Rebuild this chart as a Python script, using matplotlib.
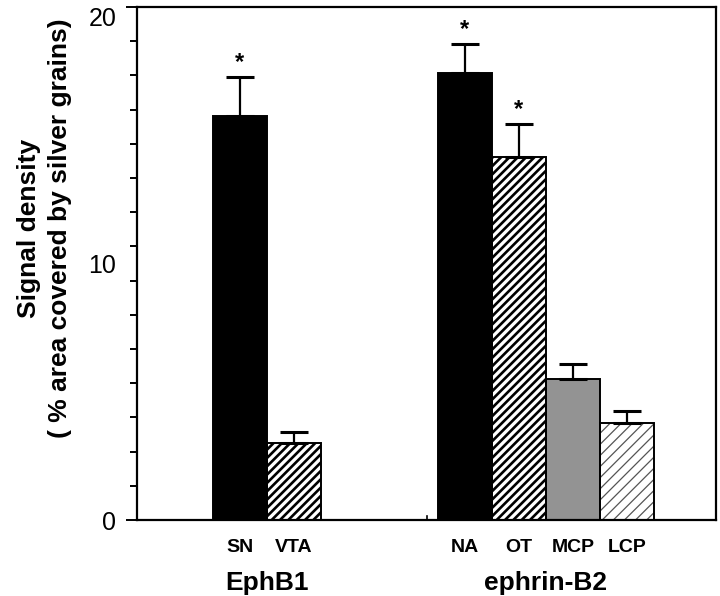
import matplotlib
matplotlib.use("Agg")
import matplotlib.pyplot as plt
import matplotlib.transforms as mtransforms
import numpy as np

plt.rcParams['font.family'] = ['Liberation Sans', 'DejaVu Sans']

# ---- data ----
categories = ["SN", "VTA", "NA", "OT", "MCP", "LCP"]
groups = ["EphB1", "ephrin-B2"]
values = [15.75, 3.0, 17.43, 14.15, 5.50, 3.78]
errors = [1.52, 0.43, 1.13, 1.29, 0.58, 0.47]
significant = [True, False, True, True, False, False]
ytick_values = [0, 10, 20]

# ---- layout ----
positions = np.array([1.9, 2.9, 6.07, 7.07, 8.07, 9.07])
group_members = [[0, 1], [2, 3, 4, 5]]
width = 1.0

fig = plt.figure(figsize=(7.2, 5.96), dpi=100)
ax = fig.add_axes([137/720, 1 - 520/596, (716-137)/720, (520-7)/596])

styles = [
    dict(fc='black', hatch=None, hc='black', hlw=1.0),
    dict(fc='white', hatch='////', hc='black', hlw=1.9),
    dict(fc='black', hatch=None, hc='black', hlw=1.0),
    dict(fc='white', hatch='////', hc='black', hlw=1.9),
    dict(fc='#939393', hatch=None, hc='black', hlw=1.0),
    dict(fc='white', hatch='///', hc='#555555', hlw=0.9),
]

for i, (x, v) in enumerate(zip(positions, values)):
    st = styles[i]
    if st['hatch']:
        with plt.rc_context({'hatch.linewidth': st['hlw']}):
            b = ax.bar(x, v, width=width, color=st['fc'], hatch=st['hatch'],
                       edgecolor=st['hc'], linewidth=0, zorder=2)
            for p in b:
                if hasattr(p, 'set_hatch_linewidth'):
                    p.set_hatch_linewidth(st['hlw'])
    else:
        ax.bar(x, v, width=width, color=st['fc'], linewidth=0, zorder=2)
    ax.bar(x, v, width=width, fill=False, edgecolor='black', linewidth=1.4, zorder=3)

ax.errorbar(positions, values, yerr=[np.zeros(len(values)), errors], fmt='none',
            ecolor='black', elinewidth=1.6, capsize=10, capthick=2.2, zorder=4)

for x, v, e, s in zip(positions, values, errors, significant):
    if s:
        ax.annotate('*', xy=(x, v + e), xytext=(0, 6), textcoords='offset points',
                    ha='center', va='baseline', fontsize=17, fontweight='bold')

ax.set_xlim(0, 10.72)
ax.set_ylim(0, 20)

for sp in ax.spines.values():
    sp.set_linewidth(1.6)

ax.set_yticks(ytick_values)
ax.set_yticklabels([str(t) for t in ytick_values], fontsize=18)
ax.yaxis.set_minor_locator(matplotlib.ticker.FixedLocator(np.linspace(0, 20, 16)))
ax.tick_params(axis='y', which='major', length=8, width=1.4, direction='out', pad=7)
ax.tick_params(axis='y', which='minor', length=5, width=1.4, direction='out')
ax.yaxis.get_major_ticks()[1].tick1line.set_visible(False)
ax.get_yticklabels()[-1].set_verticalalignment('top')

ax.set_xticks(positions)
ax.set_xticklabels(categories, fontsize=14, fontweight='bold')
ax.tick_params(axis='x', which='both', length=0, pad=14)

# small separator tick on the baseline
ax.plot([5.37, 5.37], [0, 0.15], color='black', lw=1.2, clip_on=False, zorder=5)

trans = mtransforms.blended_transform_factory(ax.transData, fig.transFigure)
for g, members in zip(groups, group_members):
    gx = np.mean([positions[m] for m in members])
    fig.text(gx, 1 - 590/596, g, transform=trans, ha='center', va='baseline',
             fontsize=19, fontweight='bold')

fig.text(44.5/720, 1 - 228/596, "Signal density\n( % area covered by silver grains)",
         rotation=90, ha='center', va='center', multialignment='center',
         fontsize=19, fontweight='bold', linespacing=1.35)

fig.savefig("out.png", dpi=100)
